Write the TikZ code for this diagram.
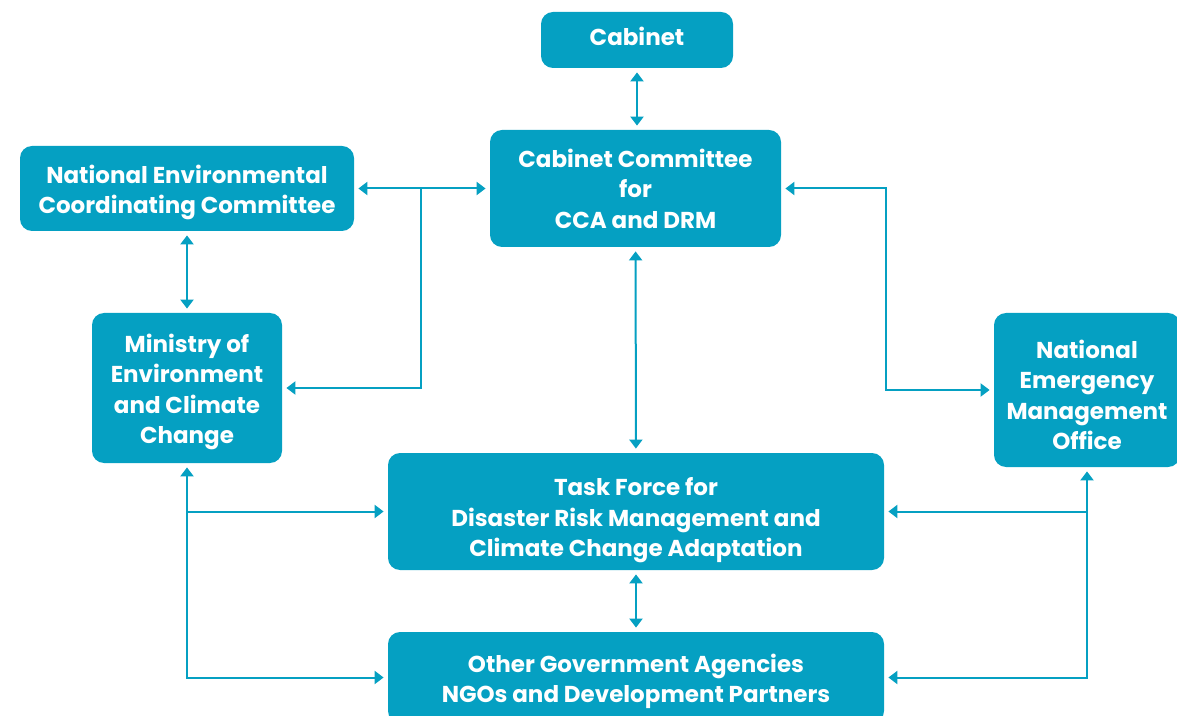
\documentclass[tikz,border=0pt]{standalone}
\usepackage{fontspec}
\setmainfont{Poppins}
\usepackage{tikz}
\usetikzlibrary{arrows.meta, calc, positioning}
\tikzset{>=stealth}
\definecolor{boxblue}{HTML}{05A0C2}

\tikzset{
  unit/.style={fill=boxblue, rounded corners=6pt, text=white, align=center, inner sep=0pt,
    font=\bfseries\fontsize{11.5}{15.2}\selectfont},
  link/.style={draw=boxblue, line width=1pt, shorten <=2pt, shorten >=2pt,
    {Triangle[width=6.5pt,length=4.5pt]}-{Triangle[width=6.5pt,length=4.5pt]}},
  feed/.style={draw=boxblue, line width=1pt, shorten >=2pt, -{Triangle[width=6.5pt,length=4.5pt]}}
}

\begin{document}
\begin{tikzpicture}[x=0.5pt,y=-0.5pt]
  \useasboundingbox (0,0) rectangle (1177,716);
  % boxes
  \node[unit, minimum width=96pt, minimum height=28pt] (cabinet) at (637,40) {\rule[-4pt]{0pt}{4pt}Cabinet};
  \node[unit, minimum width=145.5pt, minimum height=58.5pt] (ccdrm) at (635.5,188.5) {Cabinet Committee\\for\\CCA and DRM};
  \node[unit, minimum width=167pt, minimum height=42.5pt] (necc) at (187,188.5) {\rule{0pt}{13pt}National Environmental\\Coordinating Committee};
  \node[unit, minimum width=95pt, minimum height=75pt] (mecc) at (187,388) {\rule{0pt}{13pt}Ministry of\\Environment\\and Climate\\Change};
  \node[unit, minimum width=93pt, minimum height=77pt] (nemo) at (1087,390) {\rule{0pt}{14pt}National\\Emergency\\Management\\Office};
  \node[unit, minimum width=248pt, minimum height=58.5pt] (taskforce) at (636,511.5) {\rule{0pt}{18pt}Task Force for\\Disaster Risk Management and\\Climate Change Adaptation};
  \node[unit, minimum width=248pt, minimum height=45.5pt] (others) at (636,677.5) {\rule{0pt}{13pt}Other Government Agencies\\NGOs and Development Partners};

  % junctions
  \coordinate (jleft) at (421,188.5);
  \coordinate (jright) at (886,390);

  % connectors
  \draw[link] (cabinet.south) -- (cabinet.south |- ccdrm.north);
  \draw[link] (necc) -- (ccdrm);
  \draw[feed] (jleft) |- (mecc);
  \draw[link] (ccdrm) -| (jright) -- (nemo);
  \draw[link] (necc) -- (mecc);
  \draw[link] (ccdrm) -- (taskforce);
  \draw[link] (taskforce) -- (others);
  \draw[link] (mecc.south) -- (mecc.south |- others) -- (others);
  \draw[feed] (mecc.south |- taskforce) -- (taskforce);
  \draw[link] (nemo.south) -- (nemo.south |- others) -- (others);
  \draw[feed] (nemo.south |- taskforce) -- (taskforce);
\end{tikzpicture}
\end{document}
